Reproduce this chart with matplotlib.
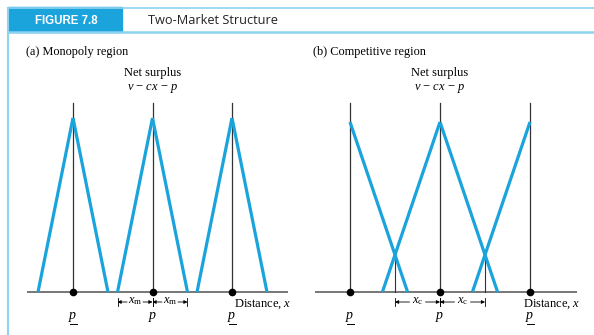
import matplotlib
matplotlib.use('Agg')
import matplotlib.pyplot as plt
from matplotlib.patches import Rectangle
from matplotlib.lines import Line2D

plt.rcParams['font.family'] = 'Liberation Serif'
plt.rcParams['mathtext.fontset'] = 'custom'
plt.rcParams['mathtext.rm'] = 'Liberation Serif'
plt.rcParams['mathtext.it'] = 'Liberation Serif:italic'

W, H = 594, 335
BLUE = '#1ba3dc'
LIGHT = '#8dd2ef'
GREY = '#777777'

# firm locations (distance units) and how far each firm's surplus reaches
firms_a = [0, 1, 2]
reach_a = 0.44           # x_m
arms_a = [(-1, 1), (-1, 1), (-1, 1)]
firms_b = [0, 1, 2]
reach_b = 0.64
arms_b = [(1,), (-1, 1), (-1,)]   # outer arms run off the line
peak = 1.0               # v - p at the firm's own location
price_labels = [r'$p$', r'$p$', r'$p$']
price_low_a = [True, False, True]     # underlined p = low price
price_low_b = [True, False, True]


def fpos(x, y):
    return x / W, 1 - y / H


fig = plt.figure(figsize=(W / 100, H / 100), dpi=100)

# ---- header band ----
fig.patches.append(Rectangle(fpos(8, 32), 114 / W, 24.5 / H, transform=fig.transFigure,
                             color=BLUE, zorder=1))
fig.lines.append(Line2D([8 / W, 1], [1 - 8 / H] * 2, transform=fig.transFigure,
                        color=LIGHT, lw=1.2))
fig.lines.append(Line2D([8 / W, 1], [1 - 32 / H] * 2, transform=fig.transFigure,
                        color=LIGHT, lw=1.8))
fig.lines.append(Line2D([8 / W, 8 / W], [1 - 8 / H, 0], transform=fig.transFigure,
                        color=LIGHT, lw=1.5))
fig.text(*fpos(66, 20.5), 'FIGURE 7.8', color='white', fontweight='bold',
         family='Liberation Sans', fontsize=8.3, ha='center', va='center')
fig.text(*fpos(148, 20), 'Two-Market Structure', family='Open Sans',
         fontsize=9.2, ha='left', va='center', color='#222222')


def panel(left_px, right_px, x0_px, unit_px, scale_px, firms, reach, arms,
          base_ext, lows, dim_segs, dim_label, dist_px, title, title_px):
    base_py = 292
    ax = fig.add_axes([left_px / W, (H - 330) / H, (right_px - left_px) / W, 235 / H])
    ax.set_xlim((left_px - x0_px) / unit_px, (right_px - x0_px) / unit_px)
    ax.set_ylim((base_py - 330) / scale_px, (base_py - 95) / scale_px)
    ax.axis('off')

    def ypx(py):
        return (base_py - py) / scale_px

    top = ypx(103)
    ax.plot(base_ext, [0, 0], color=GREY, lw=1.4, zorder=1, solid_capstyle='butt')
    for f, arm in zip(firms, arms):
        ax.plot([f, f], [0, top], color='#333333', lw=0.9, zorder=2)
        for s in arm:
            ax.plot([f, f + s * reach], [peak, 0], color=BLUE, lw=2.3, zorder=3,
                    solid_capstyle='butt')
        ax.plot(f, 0, 'o', color='black', ms=4.5, zorder=5)

    # where neighbouring surplus lines cross
    for f, g in zip(firms[:-1], firms[1:]):
        if g - f < 2 * reach:
            xm = (f + g) / 2
            h = peak - (xm - f) / reach * peak
            ax.plot([xm, xm], [0, h], color='#333333', lw=0.8, zorder=2)

    # dimension arrows under the line
    yd = ypx(302)
    tick = 4 / scale_px
    gap = 8 / unit_px
    for a, b in dim_segs:
        m = (a + b) / 2
        for xx in (a, b):
            ax.plot([xx, xx], [yd - tick, yd + tick], color='black', lw=0.6)
        for end, start in ((a, m - gap), (b, m + gap)):
            ax.annotate('', xy=(end, yd), xytext=(start, yd),
                        arrowprops=dict(arrowstyle='-|>', lw=0.6, color='black',
                                        mutation_scale=5, shrinkA=0, shrinkB=0))
        ax.text(m, yd + 1 / scale_px, dim_label, ha='center', va='center', fontsize=9)

    ax.text((dist_px - x0_px) / unit_px, ypx(304), r'Distance, $x$', ha='left',
            va='center', fontsize=9)
    for f, lab, low in zip(firms, price_labels, lows):
        ax.text(f, ypx(317), lab, ha='center', va='center', fontsize=10)
        if low:
            u = 3.5 / unit_px
            ax.plot([f - u, f + u], [ypx(323.5)] * 2, color='black', lw=0.7)

    fig.text(*fpos(*title_px), title, ha='left', va='center', fontsize=8.8)
    cx = x0_px + firms[1] * unit_px
    fig.text(*fpos(cx, 73), 'Net surplus', ha='center', va='center', fontsize=9)
    fig.text(*fpos(cx, 88), '$v$ \u2212 $cx$ \u2212 $p$', ha='center', va='center',
             fontsize=9)
    return ax


panel(20, 295, 73, 79.5, 174, firms_a, reach_a, arms_a, [-0.58, 2.70], price_low_a,
      [(1 - reach_a, 1), (1, 1 + reach_a)], r'$x_{\mathrm{m}}$', 234,
      '(a) Monopoly region', (26, 52))
panel(305, 590, 350, 90, 170, firms_b, reach_b, arms_b, [-0.39, 2.52], price_low_b,
      [(0.5, 1), (1, 1.5)], r'$x_{\mathrm{c}}$', 523,
      '(b) Competitive region', (313, 52))

fig.savefig('out.png', dpi=100)
